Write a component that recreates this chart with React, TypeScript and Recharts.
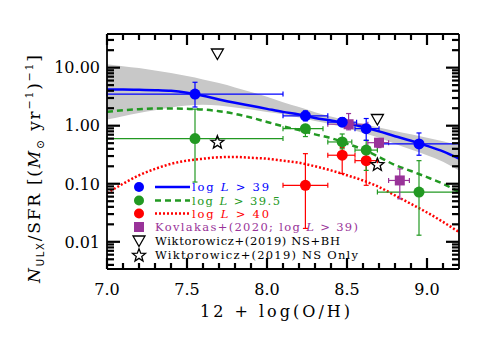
import React from 'react';
import { ComposedChart, XAxis, YAxis, Line, Area, Scatter, ErrorBar, Customized, ReferenceLine } from 'recharts';

const W = 491;
const H = 337;
const PL = 107;
const PR = 459;
const PT = 34;
const PB = 269;
const FONT = '"DejaVu Serif", serif';

const BLUE = '#0000ff';
const GREEN = '#229922';
const RED = '#ff0000';
const PURPLE = '#993399';
const GRAY = '#c8c8c8';

// axis ranges and ticks
const xDomain = [7.0, 9.2];
const yDomain = [0.0034, 38];
const xTicks = [7.0, 7.1, 7.2, 7.3, 7.4, 7.5, 7.6, 7.7, 7.8, 7.9, 8.0, 8.1, 8.2, 8.3, 8.4, 8.5, 8.6, 8.7, 8.8, 8.9, 9.0, 9.1];
const xMajorTicks = [7.0, 7.5, 8.0, 8.5, 9.0];
const xTickLabels = ['7.0', '7.5', '8.0', '8.5', '9.0'];
const yTicks = [0.004, 0.005, 0.006, 0.007, 0.008, 0.009, 0.01, 0.02, 0.03, 0.04, 0.05, 0.06, 0.07, 0.08, 0.09,
  0.1, 0.2, 0.3, 0.4, 0.5, 0.6, 0.7, 0.8, 0.9, 1, 2, 3, 4, 5, 6, 7, 8, 9, 10, 20, 30];
const yMajorTicks = [0.01, 0.1, 1, 10];
const yTickLabels = ['0.01', '0.10', '1.00', '10.00'];

// fitted curves
const curveX = [7.0, 7.1, 7.2, 7.3, 7.4, 7.5, 7.6, 7.7, 7.8, 7.9, 8.0, 8.1, 8.2, 8.3, 8.4, 8.5, 8.6, 8.7, 8.8, 8.9, 9.0, 9.1, 9.2];
const fit39 = [4.21, 4.2, 4.15, 4.1, 3.99, 3.69, 3.27, 2.83, 2.48, 2.2, 1.95, 1.73, 1.56, 1.36, 1.23, 1.1, 0.95, 0.8, 0.66, 0.55, 0.45, 0.36, 0.27];
const fit395 = [1.73, 1.85, 1.93, 1.98, 1.98, 1.95, 1.9, 1.78, 1.6, 1.38, 1.16, 0.98, 0.84, 0.71, 0.61, 0.49, 0.39, 0.29, 0.21, 0.166, 0.13, 0.1, 0.072];
const fit40 = [0.069, 0.1, 0.14, 0.18, 0.22, 0.25, 0.27, 0.286, 0.29, 0.28, 0.27, 0.25, 0.23, 0.2, 0.17, 0.14, 0.114, 0.088, 0.063, 0.045, 0.032, 0.022, 0.0147];
const bandLow = [1.28, 1.46, 1.66, 1.85, 2.06, 2.23, 2.29, 2.23, 2.06, 1.9, 1.73, 1.58, 1.38, 1.21, 1.06, 0.9, 0.75, 0.62, 0.49, 0.39, 0.31, 0.24, 0.17];
const bandHigh = [11.4, 10.6, 9.84, 8.96, 8.06, 7.15, 6.27, 5.42, 4.56, 3.79, 3.15, 2.54, 2.09, 1.71, 1.44, 1.24, 1.075, 0.93, 0.81, 0.71, 0.62, 0.54, 0.46];

// log L > 39
const blueX = [7.55, 8.24, 8.47, 8.62, 8.95];
const blueY = [3.5, 1.48, 1.15, 0.89, 0.485];
const blueXLo = [7.0, 8.1, 8.38, 8.55, 8.7];
const blueXHi = [8.1, 8.38, 8.56, 8.7, 9.2];
const blueYLo = [2.1, 1.21, 0.98, 0.56, 0.31];
const blueYHi = [5.6, 1.8, 1.38, 1.33, 0.75];

// log L > 39.5
const greenX = [7.55, 8.24, 8.47, 8.62, 8.95];
const greenY = [0.6, 0.89, 0.525, 0.38, 0.072];
const greenXLo = [7.0, 8.1, 8.38, 8.55, 8.69];
const greenXHi = [8.1, 8.35, 8.53, 8.69, 9.2];
const greenYLo = [0.107, 0.65, 0.4, 0.17, 0.013];
const greenYHi = [1.93, 1.05, 0.72, 0.56, 0.25];

// log L > 40
const redX = [8.24, 8.47, 8.62];
const redY = [0.094, 0.31, 0.25];
const redXLo = [8.1, 8.38, 8.55];
const redXHi = [8.38, 8.55, 8.69];
const redYLo = [0.017, 0.15, 0.094];
const redYHi = [0.33, 0.42, 0.38];

// Kovlakas+2020
const kovX = [8.51, 8.7, 8.83];
const kovY = [1.06, 0.51, 0.114];
const kovXLo = [8.38, 8.63, 8.76];
const kovXHi = [8.63, 8.76, 8.89];
const kovYLo = [0.85, 0.42, 0.055];
const kovYHi = [1.62, 0.6, 0.18];

// Wiktorowicz+2019
const wikBHX = [7.69, 8.69];
const wikBHY = [17.2, 1.28];
const wikNSX = [7.69, 8.69];
const wikNSY = [0.525, 0.216];

const curve = (ys: number[]) => curveX.map((x, i) => ({ x, y: ys[i] }));
const bandData = curveX.map((x, i) => ({ x, band: [bandLow[i], bandHigh[i]] }));
const pts = (xs: number[], ys: number[], xlo: number[], xhi: number[], ylo: number[], yhi: number[]) =>
  xs.map((x, i) => ({ x, y: ys[i], ex: [x - xlo[i], xhi[i] - x], ey: [ys[i] - ylo[i], yhi[i] - ys[i]] }));
const plain = (xs: number[], ys: number[]) => xs.map((x, i) => ({ x, y: ys[i] }));

const blueData = pts(blueX, blueY, blueXLo, blueXHi, blueYLo, blueYHi);
const greenData = pts(greenX, greenY, greenXLo, greenXHi, greenYLo, greenYHi);
const redData = pts(redX, redY, redXLo, redXHi, redYLo, redYHi);
const kovData = pts(kovX, kovY, kovXLo, kovXHi, kovYLo, kovYHi);
const bhData = plain(wikBHX, wikBHY);
const nsData = plain(wikNSX, wikNSY);

const TICK = { stroke: '#000', strokeWidth: 2.2 };

// axis ticks: positions come from the axis scale (p.x / p.y); marks drawn inward on both sides
const XTick = (p: any) => {
  const v = p.payload.value;
  const i = xMajorTicks.findIndex((m) => Math.abs(m - v) < 1e-6);
  const len = i >= 0 ? 11 : 6;
  return (
    <g>
      <line x1={p.x} x2={p.x} y1={PB} y2={PB - len} {...TICK} />
      <line x1={p.x} x2={p.x} y1={PT} y2={PT + len} {...TICK} />
      {i >= 0 && (
        <text x={p.x} y={295} textAnchor="middle" fontFamily={FONT} fontSize={16} fill="#000">
          {xTickLabels[i]}
        </text>
      )}
    </g>
  );
};
const YTick = (p: any) => {
  const v = p.payload.value;
  const i = yMajorTicks.findIndex((m) => Math.abs(v / m - 1) < 1e-6);
  const len = i >= 0 ? 13 : 7;
  return (
    <g>
      <line x1={PL} x2={PL + len} y1={p.y} y2={p.y} {...TICK} />
      <line x1={PR} x2={PR - len} y1={p.y} y2={p.y} {...TICK} />
      {i >= 0 && (
        <text x={100} y={p.y} dy="0.36em" textAnchor="end" fontFamily={FONT} fontSize={16} fill="#000">
          {yTickLabels[i]}
        </text>
      )}
    </g>
  );
};

const Dot = (color: string, r: number) => (p: any) => <circle cx={p.cx} cy={p.cy} r={r} fill={color} />;
const Square = (color: string, s: number) => (p: any) => (
  <rect x={p.cx - s / 2} y={p.cy - s / 2} width={s} height={s} fill={color} />
);
const triPoints = (cx: number, cy: number) =>
  `${cx - 6},${cy - 5} ${cx + 6},${cy - 5} ${cx},${cy + 5.5}`;
const starPoints = (cx: number, cy: number) => {
  const out: string[] = [];
  for (let k = 0; k < 10; k++) {
    const r = k % 2 === 0 ? 6.8 : 2.9;
    const a = -Math.PI / 2 + (k * Math.PI) / 5;
    out.push(`${cx + r * Math.cos(a)},${cy + 0.5 + r * Math.sin(a)}`);
  }
  return out.join(' ');
};
const Tri = (p: any) => <polygon points={triPoints(p.cx, p.cy)} fill="none" stroke="#000" strokeWidth={1.3} />;
const Star = (p: any) => <polygon points={starPoints(p.cx, p.cy)} fill="none" stroke="#000" strokeWidth={1.3} />;

const LegendText = ({ x, y, color, width, children }: any) => (
  <text x={x} y={y} fill={color} fontFamily={FONT} fontSize={11.5} textLength={width} lengthAdjust="spacing">
    {children}
  </text>
);

const Overlay = () => {
  const rows = [187, 200.5, 213.5, 227, 241, 255];
  const mx = 139;
  return (
    <g>
      <text x={200} y={316.5} fontFamily={FONT} fontSize={16} fill="#000" textLength={150} lengthAdjust="spacing">
        12 + log(O/H)
      </text>
      <text
        x={40}
        y={283}
        transform="rotate(-90 40 283)"
        fontFamily={FONT}
        fontSize={17}
        fill="#000"
        textLength={228}
        lengthAdjust="spacing"
      >
        <tspan fontStyle="italic">N</tspan>
        <tspan fontSize={10} dy={4} fontFamily='"DejaVu Sans", sans-serif'>ULX</tspan>
        <tspan dy={-4}>/SFR [(</tspan>
        <tspan fontStyle="italic">M</tspan>
        <tspan fontSize={11} dy={4}>⊙</tspan>
        <tspan dy={-4}> yr</tspan>
        <tspan fontSize={11} dy={-7}>−1</tspan>
        <tspan dy={7}>)</tspan>
        <tspan fontSize={11} dy={-7}>−1</tspan>
        <tspan dy={7}>]</tspan>
      </text>
      <circle cx={mx} cy={rows[0]} r={5} fill={BLUE} />
      <line x1={155} x2={190} y1={rows[0]} y2={rows[0]} stroke={BLUE} strokeWidth={2.5} />
      <LegendText x={192} y={rows[0] + 4} color={BLUE} width={77}>
        log <tspan fontStyle="italic">L</tspan> {'>'} 39
      </LegendText>
      <circle cx={mx} cy={rows[1]} r={5} fill={GREEN} />
      <line x1={155} x2={190} y1={rows[1]} y2={rows[1]} stroke={GREEN} strokeWidth={2.5} strokeDasharray="6 4" />
      <LegendText x={192} y={rows[1] + 4} color={GREEN} width={88}>
        log <tspan fontStyle="italic">L</tspan> {'>'} 39.5
      </LegendText>
      <circle cx={mx} cy={rows[2]} r={5} fill={RED} />
      <line x1={155} x2={190} y1={rows[2]} y2={rows[2]} stroke={RED} strokeWidth={2.5} strokeDasharray="2 2" />
      <LegendText x={192} y={rows[2] + 4} color={RED} width={77}>
        log <tspan fontStyle="italic">L</tspan> {'>'} 40
      </LegendText>
      <rect x={mx - 5} y={rows[3] - 5} width={10} height={10} fill={PURPLE} />
      <LegendText x={155} y={rows[3] + 4} color={PURPLE} width={203}>
        Kovlakas+(2020; log <tspan fontStyle="italic">L</tspan> {'>'} 39)
      </LegendText>
      <polygon points={triPoints(mx, rows[4])} fill="none" stroke="#000" strokeWidth={1.3} />
      <LegendText x={155} y={rows[4] + 4} color="#000" width={185}>
        Wiktorowicz+(2019) NS+BH
      </LegendText>
      <polygon points={starPoints(mx, rows[5])} fill="none" stroke="#000" strokeWidth={1.3} />
      <LegendText x={155} y={rows[5] + 4} color="#000" width={203}>
        Wiktorowicz+(2019) NS Only
      </LegendText>
    </g>
  );
};

const axisLine = { stroke: '#000', strokeWidth: 1.8 };

export default function App() {
  return (
    <div style={{ position: 'absolute', left: 0, top: 0, width: W, height: H, background: '#fff' }}>
      <ComposedChart width={W} height={H} margin={{ top: PT, right: W - PR, bottom: 0, left: 0 }}>
        <XAxis
          type="number"
          dataKey="x"
          domain={xDomain}
          allowDataOverflow
          ticks={xTicks}
          interval={0}
          height={H - PB}
          tickLine={false}
          axisLine={axisLine}
          tick={XTick}
        />
        <YAxis
          type="number"
          scale="log"
          domain={yDomain}
          allowDataOverflow
          ticks={yTicks}
          interval={0}
          width={PL}
          tickLine={false}
          axisLine={axisLine}
          tick={YTick}
        />
        <Area
          data={bandData}
          dataKey="band"
          type="monotone"
          fill={GRAY}
          fillOpacity={1}
          stroke="none"
          isAnimationActive={false}
          activeDot={false}
        />
        <Line data={curve(fit39)} dataKey="y" type="monotone" stroke={BLUE} strokeWidth={2.5} dot={false} activeDot={false} isAnimationActive={false} />
        <Line data={curve(fit395)} dataKey="y" type="monotone" stroke={GREEN} strokeWidth={2.5} strokeDasharray="6 4" dot={false} activeDot={false} isAnimationActive={false} />
        <Line data={curve(fit40)} dataKey="y" type="monotone" stroke={RED} strokeWidth={2.5} strokeDasharray="2 2" dot={false} activeDot={false} isAnimationActive={false} />
        <Scatter data={redData} dataKey="y" shape={Dot(RED, 5.5)} isAnimationActive={false}>
          <ErrorBar dataKey="ex" direction="x" width={2.5} stroke={RED} strokeWidth={1.2} />
          <ErrorBar dataKey="ey" direction="y" width={2.5} stroke={RED} strokeWidth={1.2} />
        </Scatter>
        <Scatter data={greenData} dataKey="y" shape={Dot(GREEN, 5.5)} isAnimationActive={false}>
          <ErrorBar dataKey="ex" direction="x" width={2.5} stroke={GREEN} strokeWidth={1.2} />
          <ErrorBar dataKey="ey" direction="y" width={2.5} stroke={GREEN} strokeWidth={1.2} />
        </Scatter>
        <Scatter data={kovData} dataKey="y" shape={Square(PURPLE, 10)} isAnimationActive={false}>
          <ErrorBar dataKey="ex" direction="x" width={2.5} stroke={PURPLE} strokeWidth={1.2} />
          <ErrorBar dataKey="ey" direction="y" width={2.5} stroke={PURPLE} strokeWidth={1.2} />
        </Scatter>
        <Scatter data={blueData} dataKey="y" shape={Dot(BLUE, 5.5)} isAnimationActive={false}>
          <ErrorBar dataKey="ex" direction="x" width={2.5} stroke={BLUE} strokeWidth={1.2} />
          <ErrorBar dataKey="ey" direction="y" width={2.5} stroke={BLUE} strokeWidth={1.2} />
        </Scatter>
        <Scatter data={bhData} dataKey="y" shape={Tri} isAnimationActive={false} />
        <Scatter data={nsData} dataKey="y" shape={Star} isAnimationActive={false} />
        <ReferenceLine y={yDomain[1]} stroke="#000" strokeWidth={1.8} ifOverflow="visible" />
        <ReferenceLine x={xDomain[1]} stroke="#000" strokeWidth={1.8} ifOverflow="visible" />
        <Customized component={Overlay} />
      </ComposedChart>
    </div>
  );
}
